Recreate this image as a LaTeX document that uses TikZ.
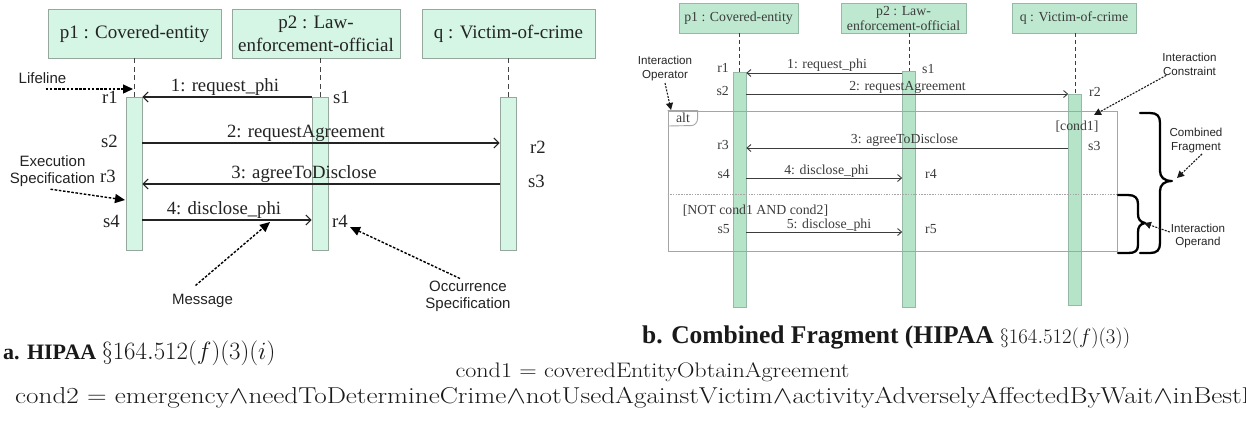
\documentclass[tikz,border=0pt]{standalone}
\usepackage{fontspec}
\usetikzlibrary{arrows.meta,calc}
\newfontfamily\umlserif{Liberation Serif}
\newfontfamily\umlsans{Liberation Sans}
\definecolor{mintA}{RGB}{214,246,229}
\definecolor{edgeA}{RGB}{150,168,158}
\definecolor{mintB}{RGB}{190,232,207}
\definecolor{barfillB}{RGB}{182,228,200}
\definecolor{edgeB}{RGB}{150,185,165}
\definecolor{inkA}{RGB}{35,35,35}
\definecolor{inkB}{RGB}{60,60,60}
\definecolor{frameB}{RGB}{165,165,165}

\begin{document}
\begin{tikzpicture}[x=1pt,y=-1pt,
  headA/.style={draw=edgeA, fill=mintA, line width=0.8pt, inner sep=0pt, align=center, text=inkA, font=\umlserif\fontsize{19}{23}\selectfont},
  barA/.style={draw=edgeA, fill=mintA, line width=0.8pt, inner sep=0pt, minimum width=16pt},
  lifeA/.style={draw=inkA!85, line width=1pt, dash pattern=on 5pt off 3.5pt},
  msgA/.style={draw=inkA, line width=1.1pt, -{Straight Barb[length=5pt,width=10pt]}},
  labA/.style={inner sep=0pt, text=inkA, font=\umlserif\fontsize{18.7}{22}\selectfont},
  noteA/.style={inner sep=0pt, align=center, text=inkA, font=\umlsans\fontsize{15}{17}\selectfont},
  pointA/.style={draw=black, line width=1.4pt, dash pattern=on 2.6pt off 1.6pt, -{Triangle[length=10pt,width=9pt]}},
  headB/.style={draw=edgeB, fill=mintB, line width=0.7pt, inner sep=0pt, align=center, text=inkB, font=\umlserif\fontsize{13.8}{15}\selectfont},
  barB/.style={draw=edgeB, fill=barfillB, line width=0.6pt, inner sep=0pt, minimum width=13pt},
  lifeB/.style={draw=inkB, line width=0.9pt, dash pattern=on 4pt off 3pt},
  msgB/.style={draw=inkB, line width=0.9pt, -{Straight Barb[length=4pt,width=7pt]}},
  labB/.style={inner sep=0pt, text=inkB, font=\umlserif\fontsize{13.8}{16}\selectfont},
  noteB/.style={inner sep=0pt, align=center, text=black!85, font=\umlsans\fontsize{11.6}{13.8}\selectfont},
  pointB/.style={draw=black!90, line width=1.1pt, dash pattern=on 2pt off 1.3pt, -{Triangle[length=7pt,width=7pt]}},
  frameline/.style={draw=frameB, line width=0.9pt},
  sepline/.style={draw=frameB, line width=0.6pt, dash pattern=on 1.5pt off 1.2pt},
  bracepath/.style={draw=black, line width=2.3pt, line cap=round, line join=round}]

\fill[white] (0,0) rectangle (1246,429);
\useasboundingbox (0,0) rectangle (1246,429);

% ---------------- (a) simple sequence diagram ----------------
\node[headA, minimum width=173pt, minimum height=49pt] (hA1) at (134.5,33.5) {p1 : Covered-entity};
\node[headA, minimum width=168pt, minimum height=49pt] (hA2) at (316,33.5) {p2 : Law-\\enforcement-official};
\node[headA, minimum width=173pt, minimum height=49pt] (hA3) at (508.5,33.5) {q : Victim-of-crime};

\node[barA, minimum height=153pt] (bA1) at (134,173.5) {};
\node[barA, minimum height=153pt] (bA2) at (320,173.5) {};
\node[barA, minimum height=153pt] (bA3) at (508,173.5) {};

\draw[lifeA] (hA1.south -| bA1) -- (bA1.north);
\draw[lifeA] (hA2.south -| bA2) -- (bA2.north);
\draw[lifeA] (hA3.south -| bA3) -- (bA3.north);

\coordinate (yA1) at (0,97);
\coordinate (yA2) at (0,143);
\coordinate (yA3) at (0,184);
\coordinate (yA4) at (0,220);
\draw[msgA] (bA2.west |- yA1) -- (bA1.east |- yA1);
\draw[msgA] (bA1.east |- yA2) -- (bA3.west |- yA2);
\draw[msgA] (bA3.west |- yA3) -- (bA1.east |- yA3);
\draw[msgA] (bA1.east |- yA4) -- (bA2.west |- yA4);

\node[labA, anchor=base] (mA1) at (225,91.5) {1: request\_phi};
\node[labA, anchor=base] (mA2) at (306,137.5) {2: requestAgreement};
\node[labA, anchor=base] (mA3) at (304,178.5) {3: agreeToDisclose};
\node[labA, anchor=base] (mA4) at (224,214.5) {4: disclose\_phi};

\node[labA, anchor=base east] (eAr1) at (118,103) {r1};
\node[labA, anchor=base west] (eAs1) at (333,103) {s1};
\node[labA, anchor=base east] (eAs2) at (118,147) {s2};
\node[labA, anchor=base west] (eAr2) at (530,153) {r2};
\node[labA, anchor=base east] (eAr3) at (116,182) {r3};
\node[labA, anchor=base west] (eAs3) at (528,187) {s3};
\node[labA, anchor=base east] (eAs4) at (120,227) {s4};
\node[labA, anchor=base west] (eAr4) at (332,227) {r4};

\node[noteA, anchor=base] (nLife) at (42.5,83) {Lifeline};
\node[noteA] (nExec) at (52.5,171.5) {Execution\\Specification};
\node[noteA, anchor=base] (nMsg) at (202.5,304) {Message};
\node[noteA] (nOcc) at (468,296) {Occurrence\\Specification};

\coordinate (tipLife) at (133,89);
\coordinate (tipExec) at (125,200);
\coordinate (tipMsg) at (270,222);
\coordinate (tipOcc) at (350,227);
\draw[pointA] ($(nLife.south |- tipLife)+(3,0)$) -- (tipLife);
\draw[pointA] ($(nExec.south)+(-2,2)$) -- (tipExec);
\draw[pointA] ($(nMsg.north)+(-7,-8)$) -- (tipMsg);
\draw[pointA] ($(nOcc.north)+(-8,-2)$) -- (tipOcc);

% ---------------- (b) combined fragment ----------------
\node[headB, minimum width=119pt, minimum height=30pt] (hB1) at (738.5,18) {p1 : Covered-entity};
\node[headB, minimum width=125pt, minimum height=30pt] (hB2) at (903.5,18) {p2 : Law-\\enforcement-official};
\node[headB, minimum width=124pt, minimum height=30pt] (hB3) at (1074,18) {q : Victim-of-crime};

\node[barB, minimum height=235pt] (bB1) at (739.5,189.5) {};
\node[barB, minimum height=236pt] (bB2) at (909,189) {};
\node[barB, minimum height=211pt] (bB3) at (1075,199.5) {};

\draw[lifeB] (hB1.south -| bB1) -- (bB1.north);
\draw[lifeB] (hB2.south -| bB2) -- (bB2.north);
\draw[lifeB] (hB3.south -| bB3) -- (bB3.north);

% alt frame with its operator tab and operand separator
\node[frameline, inner sep=0pt, minimum width=449pt, minimum height=140pt] (altfrm) at (892.5,181) {};
\coordinate (tabbot) at (668,126);
\draw[frameline] (altfrm.north west) -- ++(30,0) -- ++(0,8) .. controls +(0,4) and +(3,0) .. ++(-6,7) -- (tabbot);
\node[labB, anchor=base] (altlbl) at (683,122) {alt};
\coordinate (ysep) at (0,194);
\draw[sepline] (altfrm.west |- ysep) -- (altfrm.east |- ysep);

\coordinate (yB1) at (0,73);
\coordinate (yB2) at (0,94);
\coordinate (yB3) at (0,148);
\coordinate (yB4) at (0,178);
\coordinate (yB5) at (0,232);
\draw[msgB] (bB2.west |- yB1) -- (bB1.east |- yB1);
\draw[msgB] (bB1.east |- yB2) -- (bB3.west |- yB2);
\draw[msgB] (bB3.west |- yB3) -- (bB1.east |- yB3);
\draw[msgB] (bB1.east |- yB4) -- (bB2.west |- yB4);
\draw[msgB] (bB1.east |- yB5) -- (bB2.west |- yB5);

\node[labB, anchor=base] (mB1) at (827,68) {1: request\_phi};
\node[labB, anchor=base] (mB2) at (907.5,90) {2: requestAgreement};
\node[labB, anchor=base] (mB3) at (904.5,143) {3: agreeToDisclose};
\node[labB, anchor=base] (mB4) at (826.5,174) {4: disclose\_phi};
\node[labB, anchor=base] (mB5) at (829,228) {5: disclose\_phi};

\node[labB, anchor=base east] (eBr1) at (729,72) {r1};
\node[labB, anchor=base west] (eBs1) at (922,73) {s1};
\node[labB, anchor=base east] (eBs2) at (729,95) {s2};
\node[labB, anchor=base west] (eBr2) at (1089,96) {r2};
\node[labB, anchor=base east] (eBr3) at (729,149) {r3};
\node[labB, anchor=base west] (eBs3) at (1088,150) {s3};
\node[labB, anchor=base east] (eBs4) at (730,178) {s4};
\node[labB, anchor=base west] (eBr4) at (925,178) {r4};
\node[labB, anchor=base east] (eBs5) at (730,233) {s5};
\node[labB, anchor=base west] (eBr5) at (925,233) {r5};

\node[labB, anchor=base] (guard1) at (1077,130) {[cond1]};
\node[labB, anchor=base] (guard2) at (755.5,214) {[NOT cond1 AND cond2]};

% braces marking the whole fragment and the second operand
\draw[bracepath] (1140,113) -- (1150,113) .. controls (1157,113) and (1160,116) .. (1160,123)
  -- (1160,171) .. controls (1160,177) and (1164,181) .. (1172,181)
  .. controls (1164,181) and (1160,185) .. (1160,191)
  -- (1160,243) .. controls (1160,250) and (1157,253) .. (1150,253) -- (1140,253);
\draw[bracepath] (1118,195) -- (1128,195) .. controls (1135,195) and (1138,198) .. (1138,204)
  -- (1138,214) .. controls (1138,219) and (1140,222) .. (1145,223)
  .. controls (1140,224) and (1138,227) .. (1138,232)
  -- (1138,245) .. controls (1138,251) and (1135,253) .. (1128,253) -- (1118,253);

\node[noteB] (nOp) at (665,68.5) {Interaction\\Operator};
\node[noteB] (nCon) at (1189.5,64) {Interaction\\Constraint};
\node[noteB] (nCF) at (1196,140.5) {Combined\\Fragment};
\node[noteB] (nOpd) at (1198,236) {Interaction\\Operand};

\coordinate (tipOp) at (671,110);
\coordinate (tipCon) at (1094,115);
\coordinate (tipCF) at (1177,178);
\coordinate (tipOpd) at (1144,223);
\draw[pointB] ($(nOp.south)+(0,2)$) -- (tipOp);
\draw[pointB] ($(nCon.south west)+(4,0)$) -- (tipCon);
\draw[pointB] ($(nCF.south)+(6,1)$) -- (tipCF);
\draw[pointB] ($(nOpd.west)+(-1,-4)$) -- (tipOpd);

% ---------------- captions and conditions ----------------
\node[anchor=base west, inner sep=0pt, text=black!90] (capA) at (3,359)
  {{\umlserif\bfseries\fontsize{22}{26}\selectfont a. HIPAA}\hspace{5.5pt}{\fontsize{24.88}{30}\selectfont$\S164.512(f)(3)(i)$}};
\node[anchor=base west, inner sep=0pt, text=black!90] (capB) at (642,343)
  {{\umlserif\bfseries\fontsize{25.5}{30}\selectfont b. Combined Fragment (HIPAA}\hspace{6pt}{\fontsize{20.74}{25}\selectfont$\S164.512(f)(3))$}};
\node[anchor=base, inner sep=0pt, text=black!90, font=\fontsize{21}{25}\selectfont] (cond1) at (652.5,377)
  {\scalebox{1.15}[1]{cond1 = coveredEntityObtainAgreement}};
\node[anchor=base west, inner sep=0pt, text=black!90, font=\fontsize{23}{28}\selectfont] (cond2) at (15,403)
  {\scalebox{1.18}[1]{cond2 = emergency$\wedge$needToDetermineCrime$\wedge$notUsedAgainstVictim$\wedge$activityAdverselyAffectedByWait$\wedge$inBestI}};
\end{tikzpicture}
\end{document}
